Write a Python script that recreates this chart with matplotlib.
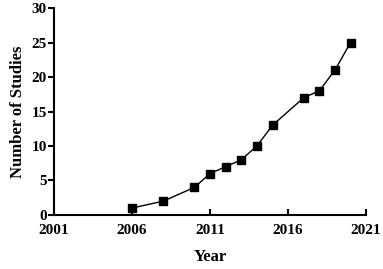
import matplotlib
matplotlib.use("Agg")
import matplotlib.pyplot as plt

years = [2006, 2008, 2010, 2011, 2012, 2013, 2014, 2015, 2017, 2018, 2019, 2020]
studies = [1, 2, 4, 6, 7, 8, 10, 13, 17, 18, 21, 25]
xticks = [2001, 2006, 2011, 2016, 2021]
yticks = [0, 5, 10, 15, 20, 25, 30]

plt.rcParams['font.family'] = ['Liberation Serif', 'DejaVu Serif']
plt.rcParams['font.weight'] = 'bold'

fig = plt.figure(figsize=(3.83, 2.69), dpi=100)
ax = fig.add_axes([0.141, 0.201, 0.815, 0.769])
ax.plot(years, studies, color='black', lw=1.0, marker='s', ms=5.5)
ax.set_xlim(2001, 2021)
ax.set_ylim(0, 30)
ax.set_xticks(xticks)
ax.set_yticks(yticks)
ax.set_xticklabels([str(t) for t in xticks], fontsize=11, fontweight='bold')
ax.set_yticklabels([str(t) for t in yticks], fontsize=11, fontweight='bold',
                   va='center_baseline')
ax.tick_params(axis='x', direction='in', length=4, width=1.5, pad=6.5)
ax.tick_params(axis='y', direction='out', length=4, width=1.5, pad=1)
for s in ['top', 'right']:
    ax.spines[s].set_visible(False)
for s in ['left', 'bottom']:
    ax.spines[s].set_linewidth(1.5)
ax.set_xlabel('Year', fontsize=12, fontweight='bold', labelpad=9)
ax.set_ylabel('Number of Studies', fontsize=12, fontweight='bold', labelpad=4)
fig.savefig('out.png', dpi=100)
